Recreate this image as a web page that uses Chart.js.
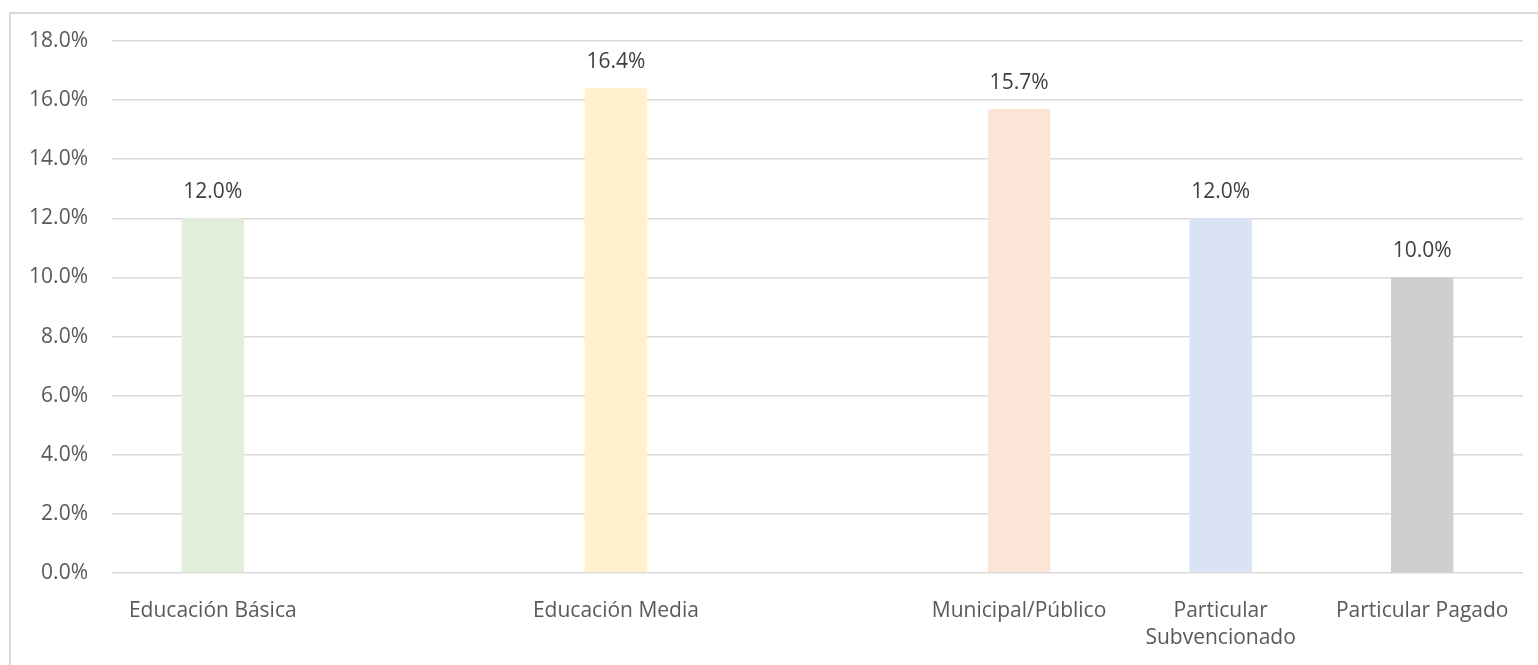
<!DOCTYPE html>
<html>
<head>
<meta charset="utf-8">
<script src="https://cdn.jsdelivr.net/npm/chart.js@4"></script>
<style>
  html, body { margin: 0; padding: 0; background: #fff; }
  #wrap { position: relative; width: 1538px; height: 665px; overflow: hidden; }
  #frame { position: absolute; left: 9px; top: 12px; width: 1560px; height: 700px; border: 2px solid #d9d9d9; box-sizing: border-box; }
  #chart { position: absolute; left: 0; top: 0; }
</style>
</head>
<body>
<div id="wrap">
  <div id="frame"></div>
  <canvas id="chart" width="1538" height="665"></canvas>
</div>
<script>
const categories = [
  "Educación Básica",
  "",
  "Educación Media",
  "",
  "Municipal/Público",
  ["Particular", "Subvencionado"],
  "Particular Pagado",
];
const values = [12.0, null, 16.4, null, 15.7, 12.0, 10.0];
const barColors = ["#e2efda", "#ffffff", "#fff2cc", "#ffffff", "#fbe5d6", "#dae3f3", "#d0cece"];
const yTicks = [0, 2, 4, 6, 8, 10, 12, 14, 16, 18];

const fontFamily = "'Open Sans', sans-serif";

const valueLabels = {
  id: "valueLabels",
  afterDatasetsDraw(chart) {
    const ctx = chart.ctx;
    const meta = chart.getDatasetMeta(0);
    ctx.save();
    ctx.font = "21px " + fontFamily;
    ctx.fillStyle = "#404040";
    ctx.textAlign = "center";
    ctx.textBaseline = "middle";
    meta.data.forEach((bar, i) => {
      if (values[i] == null) return;
      ctx.fillText(values[i].toFixed(1) + "%", bar.x, bar.y - 26);
    });
    ctx.restore();
  },
};

const ctx = document.getElementById("chart").getContext("2d");
new Chart(ctx, {
  type: "bar",
  data: {
    labels: categories,
    datasets: [
      {
        data: values,
        backgroundColor: barColors,
        borderWidth: 0,
        categoryPercentage: 1,
        barPercentage: 0.31,
      },
    ],
  },
  options: {
    responsive: false,
    animation: false,
    layout: { padding: { top: 41, right: 15, left: 0, bottom: 0 } },
    plugins: {
      legend: { display: false },
      tooltip: { enabled: false },
    },
    scales: {
      x: {
        grid: { display: false },
        border: { display: false },
        ticks: {
          color: "#595959",
          font: { family: fontFamily, size: 21, lineHeight: 1.3 },
          padding: 16,
          maxRotation: 0,
          autoSkip: false,
        },
        afterFit(scale) {
          scale.height = 92;
        },
      },
      y: {
        min: 0,
        max: 18,
        afterBuildTicks(scale) {
          scale.ticks = yTicks.map((v) => ({ value: v }));
        },
        grid: { color: "#d9d9d9", lineWidth: 1.5, drawTicks: false },
        border: { display: false },
        ticks: {
          color: "#595959",
          font: { family: fontFamily, size: 21 },
          padding: 24,
          callback: (v) => v.toFixed(1) + "%",
        },
        afterFit(scale) {
          scale.width = 112;
        },
      },
    },
  },
  plugins: [valueLabels],
});
</script>
</body>
</html>
